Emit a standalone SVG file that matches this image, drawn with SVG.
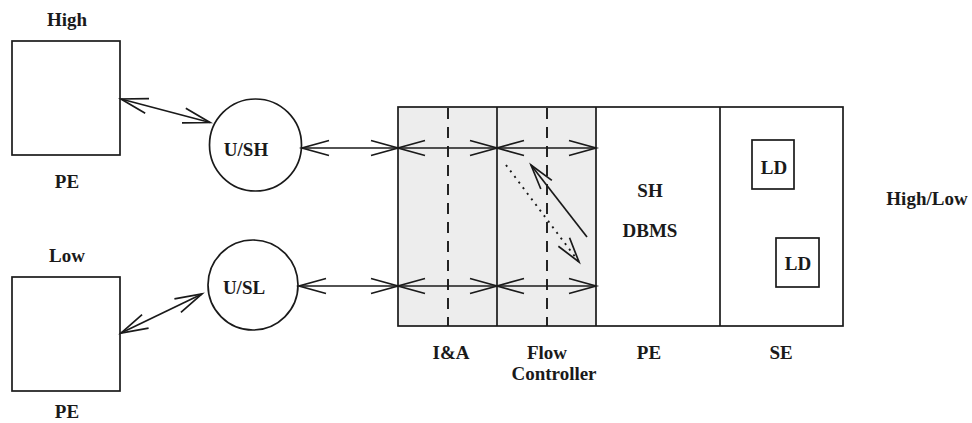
<svg xmlns="http://www.w3.org/2000/svg" width="972" height="423" viewBox="0 0 972 423">
<style>
  .t { font-family: "Liberation Serif", "Times New Roman", serif; font-weight: bold; font-size: 19px; fill: #1a1a1a; text-anchor: middle; }
  .s { fill: none; stroke: #1a1a1a; stroke-width: 1.7; }
  .w { fill: #ffffff; stroke: #1a1a1a; stroke-width: 1.7; }
  .c { fill: none; stroke: #1a1a1a; stroke-width: 1.7; marker-start: url(#ah); marker-end: url(#ah); }
  .dash { stroke: #1a1a1a; stroke-width: 1.9; stroke-dasharray: 11 8; fill: none; }
</style>
<defs>
  <marker id="ah" markerUnits="userSpaceOnUse" viewBox="-30 -10 32 20" refX="0" refY="0" markerWidth="32" markerHeight="20" orient="auto-start-reverse" overflow="visible">
    <path d="M -27 -7.5 L 0 0 L -27 7.5" fill="none" stroke="#1a1a1a" stroke-width="1.7"/>
  </marker>
  <marker id="ah1" markerUnits="userSpaceOnUse" viewBox="-30 -10 32 20" refX="0" refY="0" markerWidth="32" markerHeight="20" orient="auto" overflow="visible">
    <path d="M -25 -7 L 0 0 L -25 7" fill="none" stroke="#1a1a1a" stroke-width="1.7"/>
  </marker>
</defs>
<rect width="972" height="423" fill="#ffffff"/>

<g id="pe-high">
  <rect class="w" x="12" y="41" width="108" height="114"/>
  <text class="t" x="67" y="26">High</text>
  <text class="t" x="67" y="188">PE</text>
</g>
<g id="pe-low">
  <rect class="w" x="12" y="277" width="108" height="114"/>
  <text class="t" x="67" y="262">Low</text>
  <text class="t" x="67" y="418">PE</text>
</g>
<g id="u-sh">
  <circle class="w" cx="255.5" cy="145" r="46"/>
  <text class="t" x="246" y="156">U/SH</text>
</g>
<g id="u-sl">
  <circle class="w" cx="253" cy="285" r="45"/>
  <text class="t" x="244" y="294">U/SL</text>
</g>

<g id="tcb">
  <rect x="398" y="107" width="198" height="219" fill="#ededed" stroke="none"/>
  <rect class="s" x="398" y="107" width="445" height="219"/>
  <line class="s" x1="497" y1="107" x2="497" y2="326"/>
  <line class="s" x1="596" y1="107" x2="596" y2="326"/>
  <line class="s" x1="720" y1="107" x2="720" y2="326"/>
  <line class="dash" x1="448" y1="108" x2="448" y2="326"/>
  <line class="dash" x1="547" y1="108" x2="547" y2="326"/>
</g>
<g id="ia">
  <text class="t" x="451" y="359">I&amp;A</text>
</g>
<g id="flow-controller">
  <text class="t" x="547" y="359">Flow</text>
  <text class="t" x="554" y="380">Controller</text>
</g>
<g id="pe-dbms">
  <text class="t" x="650" y="197">SH</text>
  <text class="t" x="650" y="237">DBMS</text>
  <text class="t" x="649" y="359">PE</text>
</g>
<g id="se">
  <text class="t" x="781" y="359">SE</text>
</g>
<g id="ld1">
  <rect class="s" x="752" y="140" width="42" height="49"/>
  <text class="t" x="774" y="174">LD</text>
</g>
<g id="ld2">
  <rect class="s" x="776" y="238" width="43" height="49"/>
  <text class="t" x="798" y="270">LD</text>
</g>
<g id="high-low">
  <text class="t" x="927" y="205">High/Low</text>
</g>

<g id="connectors">
  <line class="c" x1="121" y1="99" x2="210" y2="122.5"/>
  <line class="c" x1="121" y1="333" x2="202" y2="294"/>
  <line class="c" x1="302" y1="148" x2="398" y2="148"/>
  <line class="c" x1="299" y1="286" x2="398" y2="286"/>
  <line class="c" x1="398" y1="148" x2="497" y2="148"/>
  <line class="c" x1="497" y1="148" x2="596" y2="148"/>
  <line class="c" x1="398" y1="286" x2="497" y2="286"/>
  <line class="c" x1="497" y1="286" x2="596" y2="286"/>
  <line x1="587" y1="237" x2="531" y2="165" fill="none" stroke="#1a1a1a" stroke-width="1.7" marker-end="url(#ah1)"/>
  <line x1="506" y1="165" x2="579" y2="262" fill="none" stroke="#1a1a1a" stroke-width="1.9" stroke-dasharray="2 5" marker-end="url(#ah1)"/>
</g>
</svg>
